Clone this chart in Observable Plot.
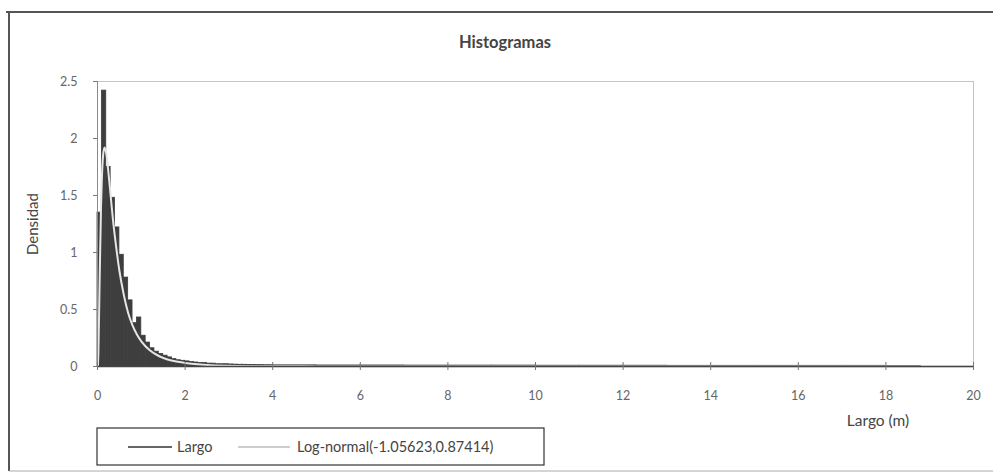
<!DOCTYPE html>
<html>
<head>
<meta charset="utf-8">
<script src="https://cdn.jsdelivr.net/npm/d3@7"></script>
<script src="https://cdn.jsdelivr.net/npm/@observablehq/plot@0.6"></script>
<style>
  html, body { margin: 0; padding: 0; background: #fff; }
  #chart { width: 993px; height: 474px; }
</style>
</head>
<body>
<div id="chart"></div>
<script>
// Histogram of "Largo" (m): densities of 0.1 m bins from 0 to 4 m
const fineBinWidth = 0.1;
const fineDensity = [
  1.35, 2.42, 1.75, 1.48, 1.22, 0.98, 0.78, 0.58, 0.38, 0.43,
  0.27, 0.21, 0.16, 0.13, 0.11, 0.095, 0.08, 0.065, 0.055, 0.05,
  0.045, 0.04, 0.035, 0.03, 0.03, 0.025, 0.025, 0.02, 0.02, 0.02,
  0.018, 0.016, 0.015, 0.015, 0.014, 0.013, 0.012, 0.012, 0.011, 0.011
];
// Long, thin tail of the histogram, 4 m to 18.8 m
const tailEdges = [4, 5, 6, 7, 8, 9, 10, 11, 12, 13, 14, 15, 16, 17, 18, 18.8];
const tailDensity = [0.010, 0.009, 0.009, 0.008, 0.008, 0.008, 0.007, 0.007, 0.007, 0.006, 0.006, 0.006, 0.006, 0.006, 0.005];

// Fitted Log-normal(-1.05623, 0.87414) density curve
const lognX = [0.01, 0.02, 0.05, 0.08, 0.1, 0.13, 0.16, 0.2, 0.25, 0.3, 0.35, 0.4, 0.5, 0.6, 0.7, 0.8, 0.9, 1.0, 1.2, 1.4, 1.6, 1.8, 2.0, 2.5, 3, 4, 5, 6, 8, 10, 14, 20];
const lognY = [0.0, 0.11, 0.78, 1.39, 1.65, 1.86, 1.92, 1.87, 1.70, 1.50, 1.30, 1.13, 0.84, 0.63, 0.47, 0.36, 0.28, 0.22, 0.14, 0.092, 0.062, 0.043, 0.031, 0.014, 0.007, 0.002, 0.001, 0.0005, 0.0002, 0.0001, 0, 0];

const xTicks = [0, 2, 4, 6, 8, 10, 12, 14, 16, 18, 20];
const yTicks = [0, 0.5, 1, 1.5, 2, 2.5];

const titleText = "Histogramas";
const yLabel = "Densidad";
const xLabel = "Largo (m)";
const seriesNames = ["Largo", "Log-normal(-1.05623,0.87414)"];

// Build bin table
const bins = [
  ...fineDensity.map((d, i) => ({x1: i * fineBinWidth, x2: (i + 1) * fineBinWidth, y: d})),
  ...tailDensity.map((d, i) => ({x1: tailEdges[i], x2: tailEdges[i + 1], y: d}))
];
const curve = lognX.map((x, i) => ({x, y: lognY[i]}));

const W = 993, H = 474;
const mL = 97, mR = 20, mT = 81, mB = 108;
const font = "Lato, 'Open Sans', sans-serif";

const svg = Plot.plot({
  width: W,
  height: H,
  marginLeft: mL,
  marginRight: mR,
  marginTop: mT,
  marginBottom: mB,
  style: {fontFamily: font, fontSize: "12.5px", color: "#555", background: "#fff"},
  x: {domain: [0, 20]},
  y: {domain: [0, 2.5]},
  marks: [
    Plot.frame({stroke: "#c4c4c4", strokeWidth: 1}),
    Plot.rectY(bins, {x1: "x1", x2: "x2", y: "y", fill: "#3e3e3e", stroke: "#3e3e3e", strokeWidth: 0.8}),
    Plot.line(curve, {x: "x", y: "y", stroke: "#e6e6e6", strokeWidth: 2, curve: "monotone-x"}),
    Plot.ruleY([0], {stroke: "#444", strokeWidth: 1.4}),
    Plot.ruleX([0], {stroke: "#8a8a8a", strokeWidth: 1}),
    Plot.axisX({ticks: xTicks, tickSize: 4, tickPadding: 21, label: null, stroke: "#777", fill: "#666", fontSize: 12.5}),
    Plot.ruleX(xTicks, {x: d => d, y1: 0, y2: 0.035, stroke: "#777"}),
    Plot.axisY({ticks: yTicks, tickSize: 4, tickPadding: 16, label: null, stroke: "#777", fill: "#666", fontSize: 12.5, tickFormat: d => String(d)})
  ]
});

const s = d3.select(svg);

// Outer chart border
s.append("line").attr("x1", 6).attr("x2", W).attr("y1", 12).attr("y2", 12).attr("stroke", "#555").attr("stroke-width", 2);
s.append("line").attr("x1", 9).attr("x2", 9).attr("y1", 12).attr("y2", 471).attr("stroke", "#555").attr("stroke-width", 2);
s.append("line").attr("x1", 9).attr("x2", W).attr("y1", 471).attr("y2", 471).attr("stroke", "#aaa").attr("stroke-width", 1);

// Title and axis labels
s.append("text").attr("x", 505).attr("y", 48).attr("text-anchor", "middle")
  .attr("font-family", font).attr("font-size", 16.5).attr("font-weight", "bold").attr("fill", "#444").text(titleText);
s.append("text").attr("transform", "translate(38,224) rotate(-90)").attr("text-anchor", "middle")
  .attr("font-family", font).attr("font-size", 15).attr("fill", "#444").text(yLabel);
s.append("text").attr("x", 878).attr("y", 426).attr("text-anchor", "middle")
  .attr("font-family", font).attr("font-size", 15.5).attr("fill", "#444").text(xLabel);

// Legend
const lg = s.append("g").attr("text-anchor", "start");
lg.append("rect").attr("x", 97).attr("y", 428).attr("width", 447).attr("height", 37)
  .attr("fill", "#fff").attr("stroke", "#333").attr("stroke-width", 1.2);
lg.append("line").attr("x1", 128).attr("x2", 172).attr("y1", 447).attr("y2", 447).attr("stroke", "#333").attr("stroke-width", 1.5);
lg.append("text").attr("x", 177).attr("y", 452).attr("text-anchor", "start").attr("font-family", font).attr("font-size", 14.5).attr("fill", "#444").text(seriesNames[0]);
lg.append("line").attr("x1", 238).attr("x2", 290).attr("y1", 447).attr("y2", 447).attr("stroke", "#bdbdbd").attr("stroke-width", 1.5);
lg.append("text").attr("x", 297).attr("y", 452).attr("text-anchor", "start").attr("font-family", font).attr("font-size", 14.5).attr("fill", "#444").text(seriesNames[1]);

document.getElementById("chart").appendChild(svg);
</script>
</body>
</html>
